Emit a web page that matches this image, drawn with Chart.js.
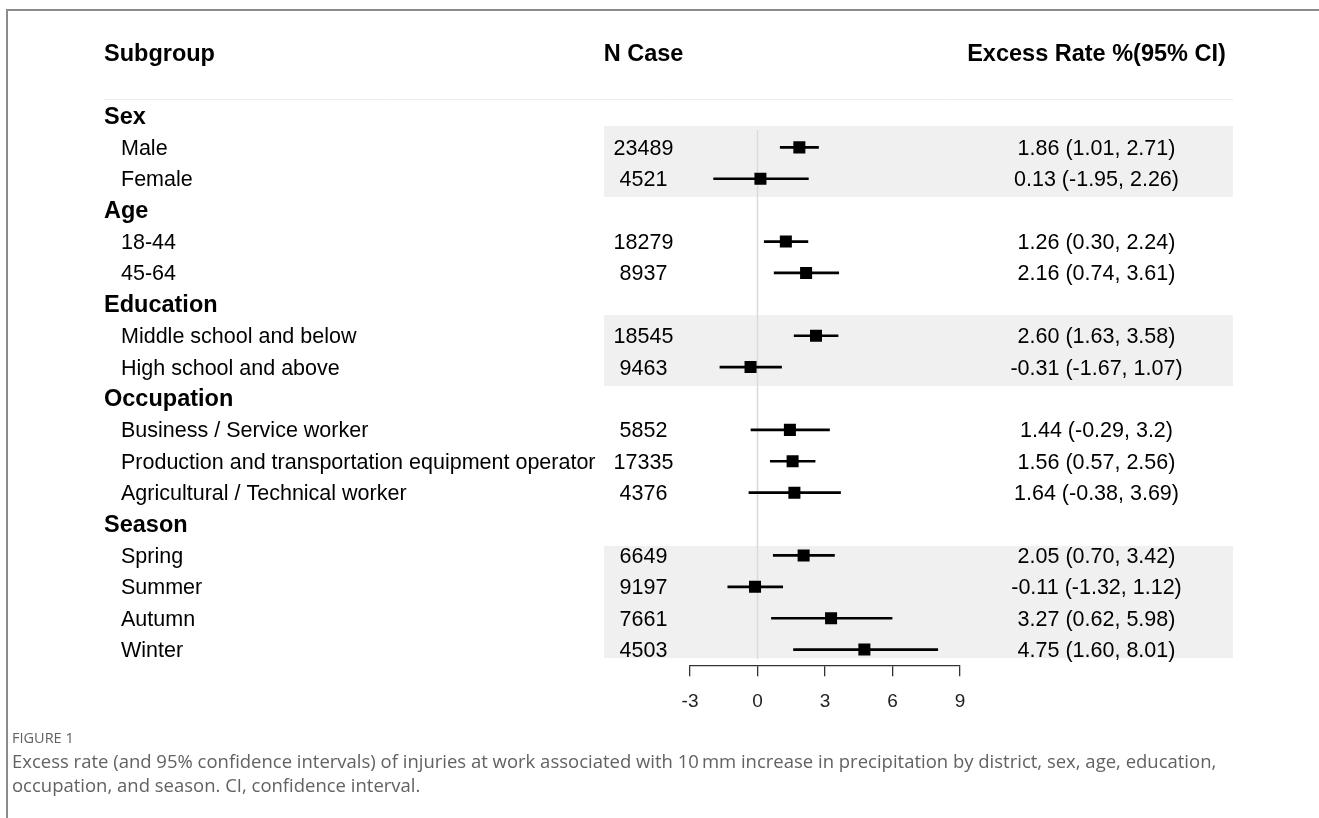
<!DOCTYPE html>
<html>
<head>
<meta charset="utf-8">
<script src="https://cdn.jsdelivr.net/npm/chart.js@4.4.0/dist/chart.umd.min.js"></script>
<style>
  html, body { margin: 0; padding: 0; background: #fff; width: 1319px; height: 818px; overflow: hidden; }
  #frame { position: absolute; left: 6px; top: 9px; width: 1330px; height: 830px;
           border-top: 2px solid #8c8c8c; border-left: 2px solid #8c8c8c; }
  #plot { position: absolute; left: 0; top: 0; }
  .cap { position: absolute; left: 12px; font-family: "Open Sans", Lato, sans-serif; color: #626262;
         white-space: nowrap; line-height: 1; }
  #figno { top: 731px; font-size: 14.5px; }
  #line1 { top: 752px; font-size: 17px; }
  #line2 { top: 776px; font-size: 17px; }
</style>
</head>
<body>
<div id="frame"></div>
<canvas id="plot" width="1319" height="818"></canvas>
<div class="cap" id="figno">FIGURE 1</div>
<div class="cap" id="line1">Excess rate (and 95% confidence intervals) of injuries at work associated with 10&#8201;mm increase in precipitation by district, sex, age, education,</div>
<div class="cap" id="line2">occupation, and season. CI, confidence interval.</div>
<script>
// Subgroup rows, top to bottom
const subgroups = [
  'Sex', 'Male', 'Female',
  'Age', '18-44', '45-64',
  'Education', 'Middle school and below', 'High school and above',
  'Occupation', 'Business / Service worker', 'Production and transportation equipment operator', 'Agricultural / Technical worker',
  'Season', 'Spring', 'Summer', 'Autumn', 'Winter'
];
const isGroup = [true, false, false, true, false, false, true, false, false, true, false, false, false, true, false, false, false, false];
const nCases = [null, 23489, 4521, null, 18279, 8937, null, 18545, 9463, null, 5852, 17335, 4376, null, 6649, 9197, 7661, 4503];
const estimates = [null, 1.86, 0.13, null, 1.26, 2.16, null, 2.60, -0.31, null, 1.44, 1.56, 1.64, null, 2.05, -0.11, 3.27, 4.75];
const lowerCI = [null, 1.01, -1.95, null, 0.30, 0.74, null, 1.63, -1.67, null, -0.29, 0.57, -0.38, null, 0.70, -1.32, 0.62, 1.60];
const upperCI = [null, 2.71, 2.26, null, 2.24, 3.61, null, 3.58, 1.07, null, 3.2, 2.56, 3.69, null, 3.42, 1.12, 5.98, 8.01];
const ciLabels = [null, '1.86 (1.01, 2.71)', '0.13 (-1.95, 2.26)', null, '1.26 (0.30, 2.24)', '2.16 (0.74, 3.61)', null,
  '2.60 (1.63, 3.58)', '-0.31 (-1.67, 1.07)', null, '1.44 (-0.29, 3.2)', '1.56 (0.57, 2.56)', '1.64 (-0.38, 3.69)', null,
  '2.05 (0.70, 3.42)', '-0.11 (-1.32, 1.12)', '3.27 (0.62, 5.98)', '4.75 (1.60, 8.01)'];
const columnHeaders = ['Subgroup', 'N Case', 'Excess Rate %(95% CI)'];
const xTicks = [-3, 0, 3, 6, 9];

const ciRanges = lowerCI.map((lo, i) => lo === null ? null : [lo, upperCI[i]]);

const FONT = '"Liberation Sans", Arial, sans-serif';
// Shaded row bands (in row units) and table geometry
const bands = [[0.32, 2.58], [6.34, 8.60], [13.70, 17.27]];
const tableLeft = 104, tableRight = 1233, shadeLeft = 604;
const colSubgroup = 104, colIndent = 121, colN = 643.5, colCI = 1096.5;
const textShift = 1.5;

const forestTable = {
  id: 'forestTable',
  beforeDatasetsDraw(chart) {
    const ctx = chart.ctx, y = chart.scales.y, x = chart.scales.x;
    ctx.save();
    ctx.fillStyle = '#f0f0f0';
    bands.forEach(([a, b]) => {
      const t = y.getPixelForValue(a), btm = y.getPixelForValue(b);
      ctx.fillRect(shadeLeft, t, tableRight - shadeLeft, btm - t);
    });
    // header separator
    ctx.strokeStyle = '#ececec';
    ctx.lineWidth = 1;
    const hy = Math.round(y.getPixelForValue(-0.54)) + 0.5;
    ctx.beginPath(); ctx.moveTo(tableLeft, hy); ctx.lineTo(tableRight, hy); ctx.stroke();
    // reference line at zero
    const x0 = x.getPixelForValue(0);
    ctx.strokeStyle = '#dadada';
    ctx.lineWidth = 1.5;
    ctx.beginPath(); ctx.moveTo(x0, y.getPixelForValue(0.45)); ctx.lineTo(x0, y.getPixelForValue(17.3)); ctx.stroke();
    ctx.restore();
  },
  afterDraw(chart) {
    const ctx = chart.ctx, y = chart.scales.y;
    ctx.save();
    ctx.fillStyle = '#000';
    ctx.textBaseline = 'middle';
    // column headers
    const hy = y.getPixelForValue(-2) + textShift;
    ctx.font = 'bold 23.5px ' + FONT;
    ctx.textAlign = 'left'; ctx.fillText(columnHeaders[0], colSubgroup, hy);
    ctx.textAlign = 'center'; ctx.fillText(columnHeaders[1], colN, hy);
    ctx.fillText(columnHeaders[2], colCI, hy);
    subgroups.forEach((name, i) => {
      const py = y.getPixelForValue(i) + textShift;
      if (isGroup[i]) {
        ctx.font = 'bold 23.5px ' + FONT;
        ctx.textAlign = 'left';
        ctx.fillText(name, colSubgroup, py);
      } else {
        ctx.font = '21.5px ' + FONT;
        ctx.textAlign = 'left';
        ctx.fillText(name, colIndent, py);
        ctx.textAlign = 'center';
        ctx.fillText(String(nCases[i]), colN, py);
        ctx.fillText(ciLabels[i], colCI, py);
      }
    });
    ctx.restore();
  }
};

new Chart(document.getElementById('plot'), {
  type: 'bar',
  data: {
    labels: subgroups,
    datasets: [
      {
        type: 'bar', indexAxis: 'y', data: ciRanges,
        backgroundColor: '#000', borderWidth: 0, barThickness: 2, order: 2
      },
      {
        type: 'line', indexAxis: 'y', data: estimates, showLine: false,
        pointStyle: 'rect', pointRadius: 8.5, pointHoverRadius: 8.5,
        pointBackgroundColor: '#000', pointBorderWidth: 0, order: 1
      }
    ]
  },
  options: {
    indexAxis: 'y',
    responsive: false,
    animation: false,
    devicePixelRatio: 1,
    layout: { padding: { left: 690, right: 359, top: 100.3, bottom: 818 - 665.3 - 50 } },
    plugins: { legend: { display: false }, tooltip: { enabled: false } },
    scales: {
      y: { type: 'category', display: false, offset: true },
      x: {
        type: 'linear', min: -3, max: 9,
        afterBuildTicks: s => { s.ticks = xTicks.map(v => ({ value: v })); },
        afterFit: s => { s.height = 50; },
        grid: { drawOnChartArea: false, drawTicks: true, tickLength: 11, color: '#333', lineWidth: 1.3 },
        border: { display: true, color: '#333', width: 1.3 },
        ticks: { font: { family: FONT, size: 19 }, color: '#222', padding: 14 }
      }
    }
  },
  plugins: [forestTable]
});

// Size the caption so its first line spans the figure text width
(function () {
  const l1 = document.getElementById('line1');
  const l2 = document.getElementById('line2');
  const target = 1205;
  const w = l1.getBoundingClientRect().width;
  const size = 17 * target / w;
  l1.style.fontSize = size + 'px';
  l2.style.fontSize = size + 'px';
})();
</script>
</body>
</html>
